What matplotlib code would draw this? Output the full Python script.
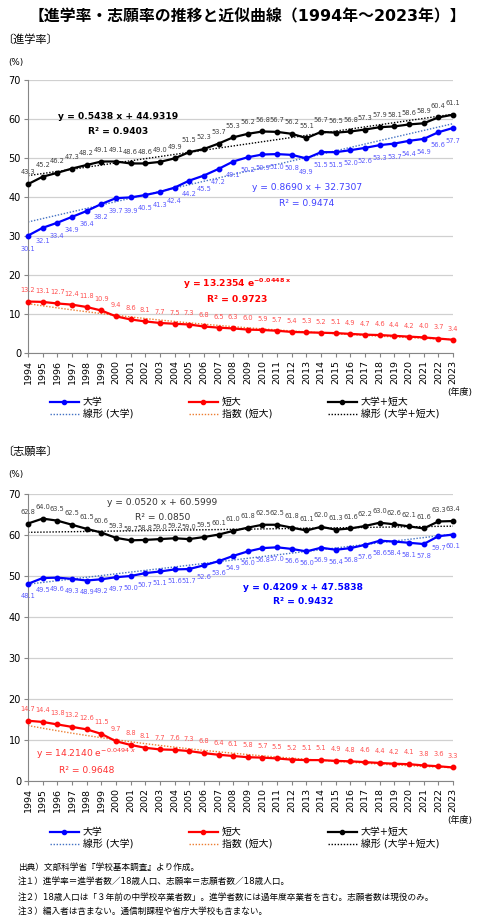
import matplotlib
matplotlib.use("Agg")
import matplotlib.pyplot as plt
import numpy as np
from matplotlib.lines import Line2D

plt.rcParams["font.family"] = ["DejaVu Sans", "Noto Sans CJK JP"]

# 年度
years = np.arange(1994, 2024)

# 進学率
adv_univ = [30.1, 32.1, 33.4, 34.9, 36.4, 38.2, 39.7, 39.9, 40.5, 41.3,
            42.4, 44.2, 45.5, 47.2, 49.1, 50.2, 50.9, 51.0, 50.8, 49.9,
            51.5, 51.5, 52.0, 52.6, 53.3, 53.7, 54.4, 54.9, 56.6, 57.7]
adv_junior = [13.2, 13.1, 12.7, 12.4, 11.8, 10.9, 9.4, 8.6, 8.1, 7.7,
              7.5, 7.3, 6.8, 6.5, 6.3, 6.0, 5.9, 5.7, 5.4, 5.3,
              5.2, 5.1, 4.9, 4.7, 4.6, 4.4, 4.2, 4.0, 3.7, 3.4]
adv_total = [43.3, 45.2, 46.2, 47.3, 48.2, 49.1, 49.1, 48.6, 48.6, 49.0,
             49.9, 51.5, 52.3, 53.7, 55.3, 56.2, 56.8, 56.7, 56.2, 55.1,
             56.7, 56.5, 56.8, 57.3, 57.9, 58.1, 58.6, 58.9, 60.4, 61.1]

# 志願率
app_univ = [48.1, 49.5, 49.6, 49.3, 48.9, 49.2, 49.7, 50.0, 50.7, 51.1,
            51.6, 51.7, 52.6, 53.6, 54.9, 56.0, 56.8, 57.0, 56.6, 56.0,
            56.9, 56.4, 56.8, 57.6, 58.6, 58.4, 58.1, 57.8, 59.7, 60.1]
app_junior = [14.7, 14.4, 13.8, 13.2, 12.6, 11.5, 9.7, 8.8, 8.1, 7.7,
              7.6, 7.3, 6.8, 6.4, 6.1, 5.8, 5.7, 5.5, 5.2, 5.1,
              5.1, 4.9, 4.8, 4.6, 4.4, 4.2, 4.1, 3.8, 3.6, 3.3]
app_total = [62.8, 64.0, 63.5, 62.5, 61.5, 60.6, 59.3, 58.7, 58.8, 59.0,
             59.2, 59.0, 59.5, 60.1, 61.0, 61.8, 62.5, 62.5, 61.8, 61.1,
             62.0, 61.3, 61.6, 62.2, 63.0, 62.6, 62.1, 61.6, 63.3, 63.4]

# 近似曲線の係数 (図中の式)  (slope, intercept) / (a, b)
adv_fit_univ = (0.8690, 32.7307)
adv_fit_total = (0.5438, 44.9319)
adv_fit_junior = (13.2354, -0.0448)
app_fit_univ = (0.4209, 47.5838)
app_fit_total = (0.0520, 60.5999)
app_fit_junior = (14.2140, -0.0494)

notes = [
    "出典）文部科学省『学校基本調査』より作成。",
    "注１）進学率＝進学者数／18歳人口、志願率＝志願者数／18歳人口。",
    "注２）18歳人口は「３年前の中学校卒業者数」。進学者数には過年度卒業者を含む。志願者数は現役のみ。",
    "注３）編入者は含まない。通信制課程や省庁大学校も含まない。",
]

W, H = 480, 921
BLUE, RED, BLACK = "#0000FF", "#FF0000", "#000000"


def fx(px):
    return px / W


def fy(py):
    return 1 - py / H


def draw_panel(ax, univ, junior, total, fit_u, fit_t, fit_j, offs):
    t = np.arange(1, len(years) + 1)
    ax.plot(years, fit_u[0] * t + fit_u[1], ls=(0, (1, 1.2)), color="#4472C4", lw=1.0)
    ax.plot(years, fit_t[0] * t + fit_t[1], ls=(0, (1, 1.2)), color=BLACK, lw=1.0)
    ax.plot(years, fit_j[0] * np.exp(fit_j[1] * t), ls=(0, (1, 1.2)), color="#ED7D31", lw=1.0)

    for vals, col, lab_col, dy in [(univ, BLUE, "#5858FF", offs[0]),
                                   (junior, RED, "#FF5050", offs[1]),
                                   (total, BLACK, "#404040", offs[2])]:
        ax.plot(years, vals, color=col, lw=1.6, marker="o", ms=3.2, clip_on=False, zorder=3)
        for x, v in zip(years, vals):
            ax.annotate(f"{v:.1f}", (x, v), xytext=(0, dy), textcoords="offset points",
                        ha="center", va="center", fontsize=4.8, color=lab_col)

    ax.set_xlim(1994, 2023)
    ax.set_ylim(0, 70)
    ax.set_yticks(range(0, 71, 10))
    ax.set_xticks(years)
    ax.set_xticklabels([str(y) for y in years], rotation=90, fontsize=6.8)
    ax.tick_params(axis="y", labelsize=7, length=3, pad=2, color="#868686")
    ax.tick_params(axis="x", length=3, pad=2, color="#868686")
    ax.grid(axis="y", color="#D0D0D0", lw=0.9)
    ax.set_axisbelow(True)
    for s in ["top", "right"]:
        ax.spines[s].set_visible(False)
    for s in ["left", "bottom"]:
        ax.spines[s].set_color("#868686")
        ax.spines[s].set_linewidth(0.8)


def draw_legend(fig, top_px):
    groups = [
        (50, [Line2D([], [], color=BLUE, lw=1.6, marker="o", ms=3),
              Line2D([], [], color="#4472C4", lw=1.0, ls=(0, (1, 1.2)))],
         ["大学", "線形 (大学)"]),
        (189, [Line2D([], [], color=RED, lw=1.6, marker="o", ms=3),
               Line2D([], [], color="#ED7D31", lw=1.0, ls=(0, (1, 1.2)))],
         ["短大", "指数 (短大)"]),
        (328, [Line2D([], [], color=BLACK, lw=1.6, marker="o", ms=3),
               Line2D([], [], color=BLACK, lw=1.0, ls=(0, (1, 1.2)))],
         ["大学+短大", "線形 (大学+短大)"]),
    ]
    for x0, handles, labels in groups:
        fig.legend(handles, labels, loc="upper left", bbox_to_anchor=(fx(x0), fy(top_px)),
                   frameon=False, fontsize=7.1, handlelength=2.9, handletextpad=0.4,
                   labelspacing=0.2, borderpad=0, borderaxespad=0)


fig = plt.figure(figsize=(W / 100, H / 100), dpi=100)

fig.text(fx(247), fy(17), "【進学率・志願率の推移と近似曲線（1994年～2023年）】",
         ha="center", va="center", fontsize=11.4, fontweight="bold")

# 進学率
fig.text(fx(2), fy(40), "〔進学率〕", ha="left", va="center", fontsize=8)
fig.text(fx(8), fy(63), "(%)", ha="left", va="center", fontsize=6.3)
ax1 = fig.add_axes([fx(28), fy(353), 425 / W, 273 / H])
draw_panel(ax1, adv_univ, adv_junior, adv_total,
           adv_fit_univ, adv_fit_total, adv_fit_junior, (-9.5, 8, 8.5))

fig.text(fx(118), fy(116), f"y = {adv_fit_total[0]:.4f} x + {adv_fit_total[1]:.4f}",
         ha="center", va="center", fontsize=6.6, fontweight="bold", color=BLACK)
fig.text(fx(118), fy(131), "R² = 0.9403", ha="center", va="center",
         fontsize=6.6, fontweight="bold", color=BLACK)
fig.text(fx(307), fy(188), f"y = {adv_fit_univ[0]:.4f} x + {adv_fit_univ[1]:.4f}",
         ha="center", va="center", fontsize=6.6, color="#4040FF")
fig.text(fx(307), fy(203), "R² = 0.9474", ha="center", va="center",
         fontsize=6.6, color="#4040FF")
fig.text(fx(237), fy(284),
         f"y = {adv_fit_junior[0]:.4f} e" + r"$^{\mathbf{-0.0448\ x}}$",
         ha="center", va="center", fontsize=6.6, fontweight="bold", color=RED)
fig.text(fx(237), fy(299), "R² = 0.9723", ha="center", va="center",
         fontsize=6.6, fontweight="bold", color=RED)

fig.text(fx(460), fy(392), "(年度)", ha="center", va="center", fontsize=6.5)
draw_legend(fig, 397)

# 志願率
fig.text(fx(2), fy(452), "〔志願率〕", ha="left", va="center", fontsize=8)
fig.text(fx(8), fy(474), "(%)", ha="left", va="center", fontsize=6.3)
ax2 = fig.add_axes([fx(28), fy(781), 425 / W, 287 / H])
draw_panel(ax2, app_univ, app_junior, app_total,
           app_fit_univ, app_fit_total, app_fit_junior, (-8.5, 8.5, 8.5))

fig.text(fx(162), fy(502), f"y = {app_fit_total[0]:.4f} x + {app_fit_total[1]:.4f}",
         ha="center", va="center", fontsize=6.6, color="#333333")
fig.text(fx(163), fy(517), "R² = 0.0850", ha="center", va="center",
         fontsize=6.6, color="#333333")
fig.text(fx(303), fy(588), f"y = {app_fit_univ[0]:.4f} x + {app_fit_univ[1]:.4f}",
         ha="center", va="center", fontsize=6.6, fontweight="bold", color=BLUE)
fig.text(fx(303), fy(602), "R² = 0.9432", ha="center", va="center",
         fontsize=6.6, fontweight="bold", color=BLUE)
fig.text(fx(86), fy(754),
         f"y = {app_fit_junior[0]:.4f} e" + r"$^{-0.0494\ x}$",
         ha="center", va="center", fontsize=6.6, color="#FF3030")
fig.text(fx(87), fy(770), "R² = 0.9648", ha="center", va="center",
         fontsize=6.6, color="#FF3030")

fig.text(fx(460), fy(820), "(年度)", ha="center", va="center", fontsize=6.5)
draw_legend(fig, 827)

# 注記
for line, py in zip(notes, [867, 881, 897, 911]):
    fig.text(fx(18), fy(py), line, ha="left", va="center", fontsize=6.2)

fig.savefig("out.png", dpi=100)
